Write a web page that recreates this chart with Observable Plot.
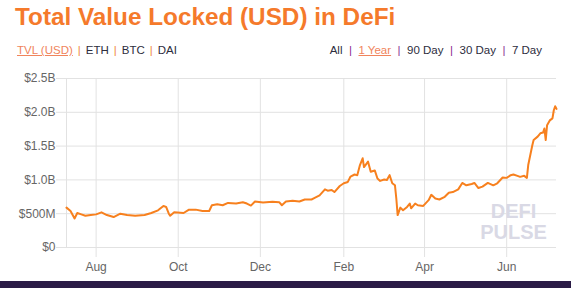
<!DOCTYPE html>
<html>
<head>
<meta charset="utf-8">
<script src="https://cdn.jsdelivr.net/npm/d3@7"></script>
<script src="https://cdn.jsdelivr.net/npm/@observablehq/plot@0.6"></script>
<style>
  html, body { margin: 0; padding: 0; background: #fff; }
  #wrap { position: relative; width: 571px; height: 288px; overflow: hidden; background: #fff; font-family: "Liberation Sans", Arial, sans-serif; }
  #title { position: absolute; left: 15px; top: 5px; font-size: 24.3px; line-height: 24px; font-weight: bold; color: #f57a2b; white-space: nowrap; }
  .row { position: absolute; top: 44px; font-size: 11.5px; line-height: 12px; color: #2d2d3d; white-space: nowrap; }
  #left { left: 17px; }
  #right { right: 29px; }
  .active { color: #f0845c; text-decoration: underline; }
  .sepL { color: #f08a3c; margin: 0 5px; }
  .sepR { color: #8a2a8e; margin: 0 6.5px; }
  #chart { position: absolute; left: 0; top: 60px; }
  #band { position: absolute; left: 0; top: 281px; width: 571px; height: 7px; background: #2a1b46; }
</style>
</head>
<body>
<div id="wrap">
  <div id="title">Total Value Locked (USD) in DeFi</div>
  <div class="row" id="left"><span class="active">TVL (USD)</span><span class="sepL">|</span>ETH<span class="sepL">|</span>BTC<span class="sepL">|</span>DAI</div>
  <div class="row" id="right">All<span class="sepR">|</span><span class="active">1 Year</span><span class="sepR">|</span>90 Day<span class="sepR">|</span>30 Day<span class="sepR">|</span>7 Day</div>
  <div id="chart"></div>
  <div id="band"></div>
</div>
<script>
// Dates (daily snapshots)
const dates = [
  "2019-07-10","2019-07-13","2019-07-16","2019-07-18","2019-07-21","2019-07-24","2019-07-28",
  "2019-08-01","2019-08-05","2019-08-09","2019-08-14","2019-08-19","2019-08-24","2019-08-30",
  "2019-09-06","2019-09-11","2019-09-16","2019-09-20","2019-09-22","2019-09-24","2019-09-25","2019-09-28",
  "2019-10-05","2019-10-09","2019-10-14","2019-10-19","2019-10-24","2019-10-26","2019-10-30",
  "2019-11-03","2019-11-07","2019-11-13","2019-11-18","2019-11-21","2019-11-24","2019-11-27",
  "2019-12-03","2019-12-10","2019-12-15","2019-12-17","2019-12-20","2019-12-25","2019-12-30",
  "2020-01-03","2020-01-08","2020-01-10","2020-01-14","2020-01-18","2020-01-20","2020-01-23","2020-01-25","2020-01-29",
  "2020-02-01","2020-02-04","2020-02-06","2020-02-09","2020-02-11","2020-02-13","2020-02-15","2020-02-16","2020-02-19","2020-02-21","2020-02-24","2020-02-26","2020-02-28",
  "2020-03-02","2020-03-04","2020-03-06","2020-03-08","2020-03-10","2020-03-11","2020-03-12","2020-03-14","2020-03-16","2020-03-19","2020-03-21","2020-03-22","2020-03-25","2020-03-27","2020-03-31",
  "2020-04-04","2020-04-06","2020-04-09","2020-04-12","2020-04-16","2020-04-19","2020-04-22","2020-04-26","2020-04-29",
  "2020-05-02","2020-05-06","2020-05-08","2020-05-11","2020-05-14","2020-05-18","2020-05-22","2020-05-25","2020-05-29",
  "2020-06-01","2020-06-04","2020-06-06","2020-06-09","2020-06-11","2020-06-14","2020-06-16","2020-06-17","2020-06-20","2020-06-21","2020-06-24","2020-06-26","2020-06-28","2020-06-29","2020-06-30",
  "2020-07-01","2020-07-03","2020-07-05","2020-07-06","2020-07-07","2020-07-08"
];
// Total value locked, billions of USD
const tvlBillions = [
  0.59,0.54,0.43,0.51,0.49,0.47,0.48,
  0.49,0.52,0.48,0.45,0.50,0.48,0.47,
  0.48,0.51,0.55,0.615,0.60,0.50,0.47,0.52,
  0.51,0.56,0.56,0.54,0.54,0.625,0.64,
  0.625,0.66,0.65,0.67,0.65,0.62,0.68,
  0.665,0.675,0.67,0.625,0.68,0.69,0.68,
  0.71,0.71,0.73,0.77,0.86,0.84,0.85,0.82,0.91,
  0.95,0.97,1.05,1.08,1.07,1.22,1.32,1.19,1.27,1.12,1.14,1.02,0.985,
  1.005,1.00,1.07,0.95,0.92,0.725,0.48,0.59,0.55,0.60,0.65,0.58,0.65,0.625,0.615,
  0.70,0.78,0.725,0.71,0.75,0.81,0.82,0.86,0.955,
  0.92,0.94,0.955,0.88,0.90,0.955,0.92,0.95,1.035,
  1.03,1.07,1.08,1.06,1.045,1.06,1.03,1.22,1.51,1.59,1.64,1.69,1.70,1.76,1.59,
  1.81,1.88,1.91,2.03,2.09,2.05
];
const yTickValues = [0, 0.5, 1.0, 1.5, 2.0, 2.5];
const yTickLabels = ["$0", "$500M", "$1.0B", "$1.5B", "$2.0B", "$2.5B"];
const xTickDates = ["2019-08-01","2019-10-01","2019-12-01","2020-02-01","2020-04-01","2020-06-01"];
const xDomain = ["2019-07-10","2020-07-08"];
const watermark = "DEFI\nPULSE";

const data = dates.map((d, i) => ({date: new Date(d + "T00:00:00Z"), tvl: tvlBillions[i]}));
const gridColor = "#e2e2e2";

const chart = Plot.plot({
  width: 571,
  height: 220,
  marginTop: 18,
  marginBottom: 33,
  marginLeft: 66,
  marginRight: 15,
  style: {fontFamily: "'Liberation Sans', Arial, sans-serif", fontSize: "12px", background: "transparent"},
  x: {type: "utc", domain: xDomain.map(d => new Date(d + "T00:00:00Z"))},
  y: {domain: [0, 2.5]},
  marks: [
    Plot.gridY(yTickValues, {stroke: gridColor, strokeOpacity: 1}),
    Plot.gridX(xTickDates.map(d => new Date(d + "T00:00:00Z")), {stroke: gridColor, strokeOpacity: 1}),
    Plot.frame({anchor: "left", stroke: gridColor}),
    Plot.axisY(yTickValues, {tickSize: 10, tickPadding: 1, stroke: gridColor, fill: "#666", fontSize: 12,
      tickFormat: (d) => yTickLabels[yTickValues.indexOf(d)], label: null}),
    Plot.axisX(xTickDates.map(d => new Date(d + "T00:00:00Z")), {tickSize: 10, tickPadding: 5, stroke: gridColor, fill: "#666", fontSize: 12,
      tickFormat: d3.utcFormat("%b"), label: null}),
    Plot.text([watermark], {frameAnchor: "bottom-right", text: d => d, textAnchor: "middle", lineAnchor: "bottom",
      dx: -43, dy: -9, fontSize: 20, fontWeight: "bold", lineHeight: 1.05, fill: "#d9d9e5"}),
    Plot.line(data, {x: "date", y: "tvl", stroke: "#f7801e", strokeWidth: 2, curve: "linear"})
  ]
});
document.getElementById("chart").appendChild(chart);
</script>
</body>
</html>
